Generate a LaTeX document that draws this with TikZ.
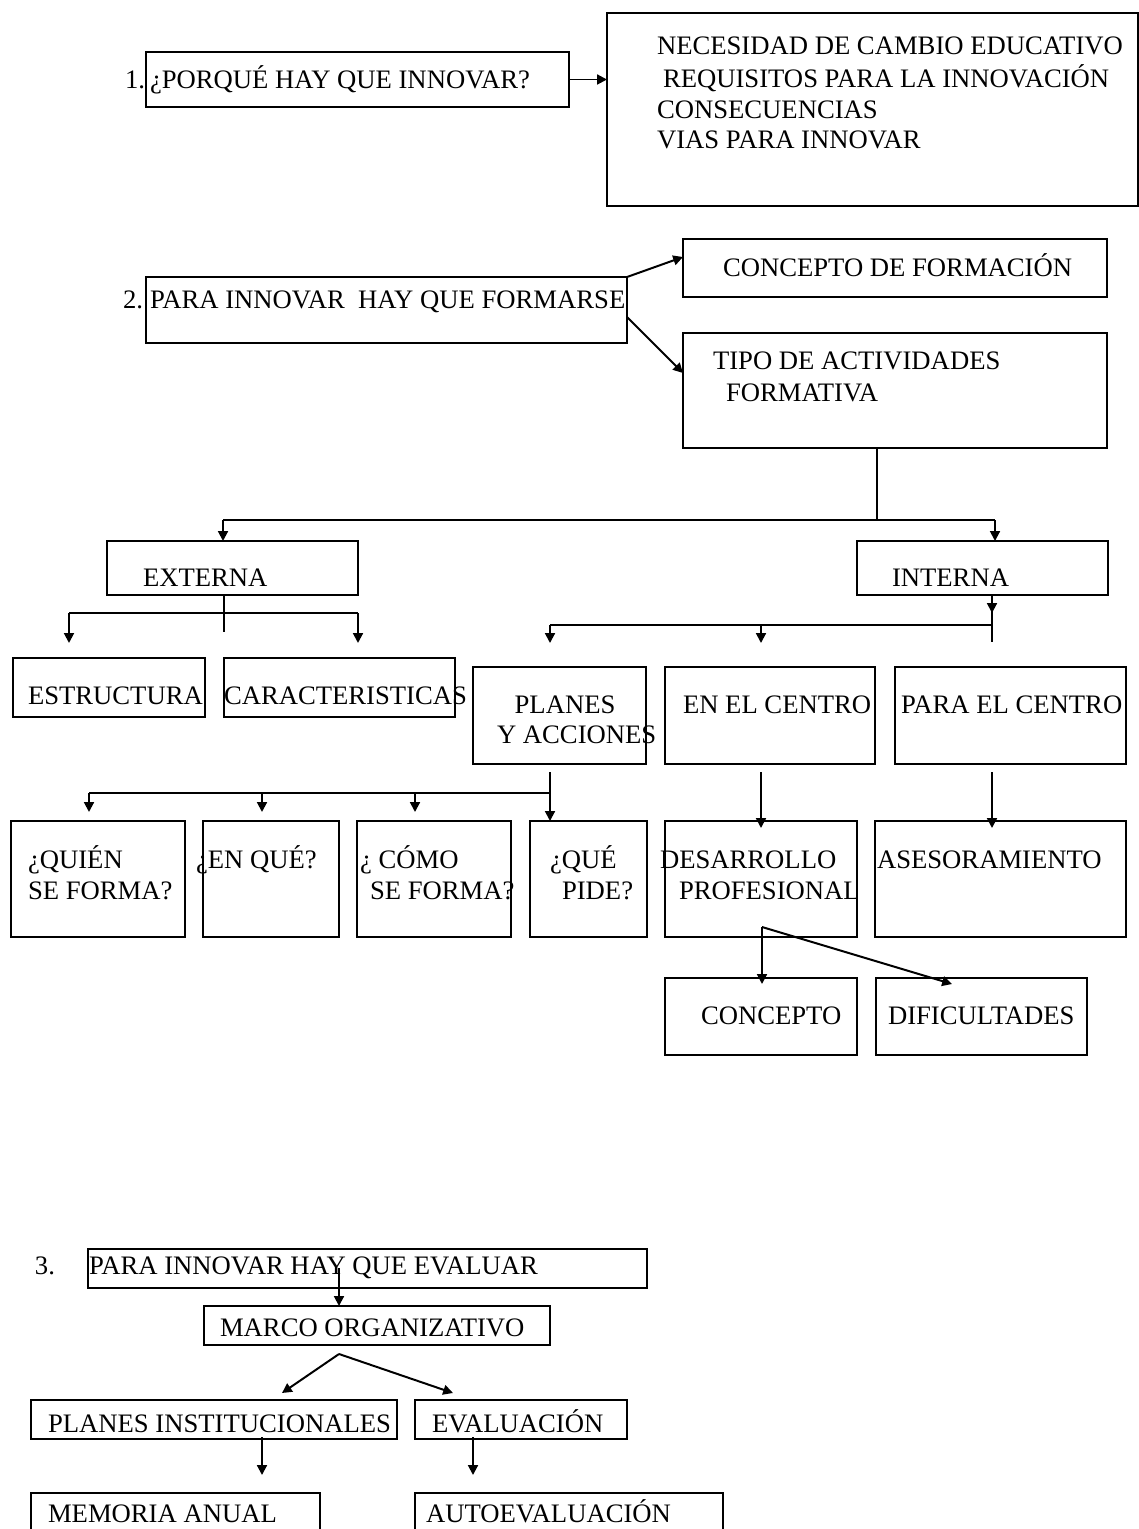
\documentclass[tikz,border=0pt]{standalone}
\usepackage{fontspec}
\setmainfont{Liberation Serif}
\usetikzlibrary{arrows.meta}
% box given by its left, top, right and bottom edges (y grows downwards)
\newcommand\boxat[5]{\node[box, minimum width={(#4-#2)*0.48pt}, minimum height={(#5-#3)*0.48pt}] (#1) at (#2,#3) {};}
\begin{document}
\begin{tikzpicture}[x=0.48pt,y=-0.48pt,
  box/.style={draw, line width=1.15pt, inner sep=0pt, outer sep=0pt, anchor=north west},
  lbl/.style={inner sep=0pt, outer sep=0pt, anchor=base west, font=\fontsize{12.8}{15}\selectfont},
  lblc/.style={lbl, anchor=base},
  wire/.style={line width=0.95pt},
  arr/.style={wire, -{Triangle[length=4.7pt,width=4.7pt]}},
]
\useasboundingbox (0,0) rectangle (1139,1529);
\clip (0,0) rectangle (1139,1529);

% ---------- 1. why innovate ----------
\boxat{q1}{146}{52}{569}{107}
\boxat{big}{607}{13}{1138}{206}
\node[lbl] (n1) at (125,89) {1.};
\node[lbl] (q1t) at (150,89) {¿PORQUÉ HAY QUE INNOVAR?};
\node[lbl] (b1) at (657,55) {NECESIDAD DE CAMBIO EDUCATIVO};
\node[lbl] (b2) at (663,88) {REQUISITOS PARA LA INNOVACIÓN};
\node[lbl] (b3) at (657,119) {CONSECUENCIAS};
\node[lbl] (b4) at (657,149) {VIAS PARA INNOVAR};
\draw[arr] (q1.east) -- (q1.east -| big.west);

% ---------- 2. training ----------
\boxat{f2}{146}{277}{627}{343}
\boxat{cf}{683}{239}{1107}{297}
\boxat{ta}{683}{333}{1107}{448}
\node[lbl] (n2) at (123,309) {2.};
\node[lbl] (f2t) at (150,309) {PARA INNOVAR\ \ HAY QUE FORMARSE};
\node[lbl] (cft) at (723,276) {CONCEPTO DE FORMACIÓN};
\node[lbl] (ta1) at (713,369) {TIPO DE ACTIVIDADES};
\node[lbl] (ta2) at (726,401) {FORMATIVA};
\coordinate (cf-in) at (683,257);
\coordinate (ta-in) at (683,373);
\coordinate (f2-low) at (627,317);
\draw[arr] (f2.north east) -- (cf-in);
\draw[arr] (f2-low) -- (ta-in);

% split into external / internal
\boxat{ex}{107}{541}{358}{595}
\boxat{in}{857}{541}{1108}{595}
\node[lbl] (ext) at (143,586) {EXTERNA};
\node[lbl] (intt) at (892,586) {INTERNA};
\coordinate (ta-foot) at (877,520);
\coordinate (bar-l) at (223,520);
\coordinate (bar-r) at (995,520);
\draw[wire] (ta-foot |- ta.south) -- (ta-foot);
\draw[wire] (bar-l) -- (bar-r);
\draw[arr] (bar-l) -- (bar-l |- ex.north);
\draw[arr] (bar-r) -- (bar-r |- in.north);

% external branch
\boxat{es}{13}{658}{205}{717}
\boxat{ca}{224}{658}{455}{717}
\node[lbl] (est) at (28,704) {ESTRUCTURA};
\node[lbl] (cat) at (224,704) {CARACTERISTICAS};
\coordinate (ex-stem) at (224,632);
\coordinate (exb-l) at (69,613);
\coordinate (exb-r) at (358,613);
\coordinate (es-tip) at (69,643);
\coordinate (ca-tip) at (358,643);
\draw[wire] (ex-stem |- ex.south) -- (ex-stem);
\draw[wire, line width=1.3pt] (exb-l) -- (exb-r);
\draw[arr] (exb-l) -- (es-tip);
\draw[arr] (exb-r) -- (ca-tip);

% internal branch
\boxat{pl}{473}{667}{646}{764}
\boxat{ec}{665}{667}{875}{764}
\boxat{pc}{895}{667}{1126}{764}
\node[lblc] (pl1) at (565,713) {PLANES};
\node[lbl] (pl2) at (497,743) {Y ACCIONES};
\node[lbl] (ect) at (683,713) {EN EL CENTRO};
\node[lbl] (pct) at (901,713) {PARA EL CENTRO};
\coordinate (in-mid) at (992,613);
\coordinate (in-stem) at (992,642);
\coordinate (inb-l) at (550,625);
\coordinate (inb-r) at (992,625);
\coordinate (ec-tip) at (761,643);
\coordinate (pl-tip) at (550,643);
\draw[wire] (in-stem |- in.south) -- (in-stem);
\draw[arr] (in-mid |- in.south) -- (in-mid);
\draw[wire, line width=1.2pt] (inb-l) -- (inb-r);
\draw[arr] (inb-l) -- (pl-tip);
\draw[arr] (761,625) -- (ec-tip);

% plans and actions
\boxat{qf}{11}{821}{185}{937}
\boxat{eq}{203}{821}{339}{937}
\boxat{cm}{357}{821}{511}{937}
\boxat{qp}{530}{821}{647}{937}
\boxat{dp}{665}{821}{857}{937}
\boxat{as}{875}{821}{1126}{937}
\node[lbl] (qf1) at (28,868) {¿QUIÉN};
\node[lbl] (qf2) at (28,899) {SE FORMA?};
\node[lbl] (eqt) at (196,868) {¿EN QUÉ?};
\node[lbl] (cm1) at (360,868) {¿ CÓMO};
\node[lbl] (cm2) at (370,899) {SE FORMA?};
\node[lbl] (qp1) at (550,868) {¿QUÉ};
\node[lbl] (qp2) at (562,899) {PIDE?};
\node[lbl] (dp1) at (660,868) {DESARROLLO};
\node[lbl] (dp2) at (679,899) {PROFESIONAL};
\node[lbl] (ast) at (877,868) {ASESORAMIENTO};
\coordinate (pl-stem) at (550,772);
\coordinate (plb-l) at (89,793);
\coordinate (plb-j) at (550,793);
\draw[arr] (pl-stem) -- (pl-stem |- qp.north);
\draw[wire, line width=1.2pt] (plb-l) -- (plb-j);
\draw[arr] (plb-l) -- (89,812);
\draw[arr] (262,793) -- (262,812);
\draw[arr] (415,793) -- (415,812);
\coordinate (ec-stem) at (761,772);
\coordinate (pc-stem) at (992,772);
\coordinate (dp-tip) at (761,828);
\coordinate (as-tip) at (992,828);
\draw[arr] (ec-stem) -- (dp-tip);
\draw[arr] (pc-stem) -- (as-tip);

% professional development
\boxat{co}{665}{978}{857}{1055}
\boxat{di}{876}{978}{1087}{1055}
\node[lbl] (cot) at (701,1024) {CONCEPTO};
\node[lbl] (dit) at (888,1024) {DIFICULTADES};
\coordinate (dp-knee) at (762,927);
\coordinate (co-tip) at (762,984);
\coordinate (di-tip) at (952,984);
\draw[arr] (dp-knee) -- (co-tip);
\draw[arr] (dp-knee) -- (di-tip);

% ---------- 3. evaluation ----------
\boxat{ev3}{88}{1249}{647}{1288}
\boxat{mo}{204}{1306}{550}{1345}
\boxat{pi}{31}{1400}{397}{1439}
\boxat{ev}{415}{1400}{627}{1439}
\boxat{ma}{31}{1493}{320}{1545}
\boxat{au}{415}{1493}{723}{1545}
\node[lbl] (n3) at (35,1274) {3.};
\node[lbl] (ev3t) at (89,1274) {PARA INNOVAR HAY QUE EVALUAR};
\node[lbl] (mot) at (220,1336) {MARCO ORGANIZATIVO};
\node[lbl] (pit) at (48,1432) {PLANES INSTITUCIONALES};
\node[lbl] (evt) at (432,1432) {EVALUACIÓN};
\node[lbl] (mat) at (48,1522) {MEMORIA ANUAL};
\node[lbl] (aut) at (426,1522) {AUTOEVALUACIÓN};
\coordinate (ev3-stem) at (339,1268);
\draw[arr] (ev3-stem) -- (ev3-stem |- mo.north);
\coordinate (mo-fork) at (339,1354);
\coordinate (pi-tip) at (282,1393);
\coordinate (ev-tip) at (453,1393);
\draw[arr] (mo-fork) -- (pi-tip);
\draw[arr] (mo-fork) -- (ev-tip);
\coordinate (pi-stem) at (262,1437);
\coordinate (ev-stem) at (473,1437);
\draw[arr] (pi-stem) -- (262,1475);
\draw[arr] (ev-stem) -- (473,1475);
\end{tikzpicture}
\end{document}
